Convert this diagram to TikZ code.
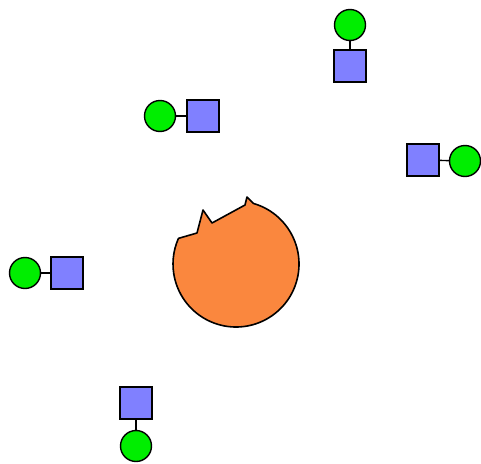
\documentclass[tikz,border=0pt]{standalone}
\usetikzlibrary{calc}
\definecolor{pairgreen}{RGB}{0,238,0}
\definecolor{pairblue}{RGB}{128,128,255}
\definecolor{blobfill}{RGB}{250,135,62}

\begin{document}
\begin{tikzpicture}[x=1pt, y=-1pt,
  ball/.style={draw, circle, fill=pairgreen, minimum size=31pt, inner sep=0pt, line width=1.4pt},
  box/.style={draw, rectangle, fill=pairblue, minimum size=32pt, inner sep=0pt, line width=1.4pt},
  link/.style={line width=1.4pt}
]
\useasboundingbox (0,0) rectangle (481,463);

\coordinate (mid) at (236,264);
\draw[fill=blobfill, line width=1.6pt, line join=round]
  ($(mid)+(-74:63)$) arc[start angle=-74, end angle=204, radius=63]
  -- (197,233) -- (203,210) -- (212,223) -- (245,205) -- (247,197) -- cycle;

\node[ball] (g1) at (350,25) {};
\node[box] (b1) at (350,66) {};
\node[ball] (g2) at (160,116) {};
\node[box] (b2) at (203,116) {};
\node[box] (b3) at (423,160) {};
\node[ball] (g3) at (465,161) {};
\node[ball] (g4) at (25,273) {};
\node[box] (b4) at (67,273) {};
\node[box] (b5) at (136,403) {};
\node[ball] (g5) at (136,446) {};

\draw[link] (g1) -- (b1);
\draw[link] (g2) -- (b2);
\draw[link] (b3) -- (g3);
\draw[link] (g4) -- (b4);
\draw[link] (b5) -- (g5);
\end{tikzpicture}
\end{document}
